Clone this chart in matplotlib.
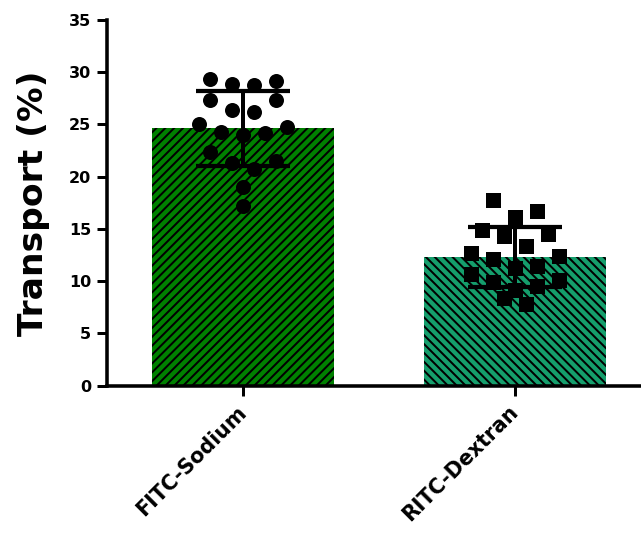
import numpy as np
import matplotlib
matplotlib.use("Agg")
import matplotlib.pyplot as plt

# transport values for each replicate well (%)
groups = ["FITC-Sodium", "RITC-Dextran"]
fitc_sodium = [29.2, 28.8, 28.9, 29.4, 27.3, 26.4, 26.2, 27.3, 25.0, 24.3,
               24.0, 24.2, 24.8, 22.4, 21.3, 20.7, 21.5, 19.0, 17.2]
ritc_dextran = [17.8, 16.7, 16.1, 14.9, 14.5, 14.3, 13.4, 12.7, 12.1, 12.4,
                11.3, 11.5, 10.7, 10.1, 9.9, 9.2, 9.5, 8.4, 7.8]
yticks = [0, 5, 10, 15, 20, 25, 30, 35]

series = [fitc_sodium, ritc_dextran]
bar_colors = ["#008000", "#159E6C"]
hatches = ["///", "\\\\\\"]
markers = ["o", "s"]


def row_scatter(values, row_height=1.75, step=0.0404):
    """Spread points sideways in rows, lowest value of a row in the middle."""
    vals = np.asarray(values, dtype=float)
    order = np.argsort(-vals)
    offsets = np.zeros(len(vals))
    i = 0
    while i < len(order):
        top = vals[order[i]]
        row = [j for j in order[i:] if vals[j] >= top - row_height]
        n = len(row)
        slots = [(k - (n - 1) / 2) * 2 for k in range(n)]
        slots.sort(key=lambda s: (abs(s), -s))
        row.sort(key=lambda j: vals[j])
        for j, s in zip(row, slots):
            offsets[j] = s * step
        i += n
    return offsets


plt.rcParams["font.family"] = ["DejaVu Sans"]
plt.rcParams["font.weight"] = "bold"
plt.rcParams["hatch.linewidth"] = 1.8

fig = plt.figure(figsize=(641 / 80, 538 / 80), dpi=80)
ax = fig.add_axes([0.1665, 0.2831, 0.8335, 0.6797])

means = [np.mean(v) for v in series]
sds = [np.std(v, ddof=1) for v in series]
pos = np.arange(len(groups))

for i in range(len(groups)):
    ax.bar(pos[i], means[i], width=0.67, color=bar_colors[i], hatch=hatches[i],
           edgecolor="black", linewidth=0, zorder=1)
    xs = pos[i] + row_scatter(series[i])
    ax.scatter(xs, series[i], marker=markers[i], s=13.5 ** 2, color="black",
               linewidths=0, zorder=3)

ax.errorbar(pos, means, yerr=sds, fmt="none", ecolor="black", elinewidth=3.6,
            capsize=42, capthick=3.8, zorder=4)

ax.set_xlim(-0.501, 1.463)
ax.set_ylim(0, 35)
ax.set_yticks(yticks)
ax.set_yticklabels([str(t) for t in yticks], fontsize=14.4, fontweight="bold")
ax.set_xticks(pos)
ax.set_xticklabels(groups, fontsize=18.5, fontweight="bold", rotation=45,
                   ha="right", va="center", rotation_mode="anchor")
ax.set_ylabel("Transport (%)", fontsize=31, fontweight="bold", labelpad=17)

for side in ["top", "right"]:
    ax.spines[side].set_visible(False)
for side in ["left", "bottom"]:
    ax.spines[side].set_linewidth(3.2)
ax.tick_params(axis="both", width=2.7, length=9, direction="out")
ax.tick_params(axis="y", pad=5)
ax.tick_params(axis="x", pad=12)

fig.savefig("out.png", dpi=80)
